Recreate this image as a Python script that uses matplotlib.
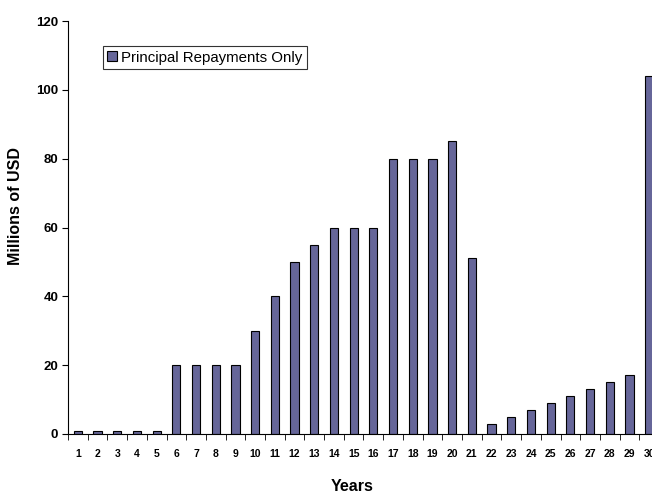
import numpy as np
import matplotlib.pyplot as plt
from matplotlib.ticker import FixedLocator

plt.rcParams['font.family'] = ['Liberation Sans', 'DejaVu Sans']

years = list(range(1, 31))
repayments = [1, 1, 1, 1, 1, 20, 20, 20, 20, 30, 40, 50, 55, 60, 60, 60,
              80, 80, 80, 85, 51, 3, 5, 7, 9, 11, 13, 15, 17, 104]
yticks = [0, 20, 40, 60, 80, 100, 120]

fig = plt.figure(figsize=(6.52, 4.93), dpi=100)
# axes runs a bit past the right edge, like the clipped original
ax = fig.add_axes([68 / 652, 59 / 493, 591 / 652, 413 / 493])

ax.bar(years, repayments, width=0.42, color='#666699', edgecolor='black',
       linewidth=0.8, label='Principal Repayments Only')

ax.set_xlim(0.5, 30.5)
ax.set_ylim(0, 120)
ax.set_yticks(yticks)
ax.set_xticks(years)
ax.xaxis.set_minor_locator(FixedLocator(np.arange(0.5, 31, 1)))
ax.tick_params(axis='x', which='major', length=0, pad=11, labelsize=7.5)
ax.tick_params(axis='x', which='minor', length=4, direction='out')
ax.tick_params(axis='y', length=4, direction='out', labelsize=9.5, pad=3)
for lab in ax.get_xticklabels() + ax.get_yticklabels():
    lab.set_fontweight('bold')

for s in ['top', 'right']:
    ax.spines[s].set_visible(False)

ax.set_xlabel('Years', fontsize=11.5, fontweight='bold')
ax.set_ylabel('Millions of USD', fontsize=11.5, fontweight='bold')
ax.xaxis.set_label_coords(0.48, -0.108)
ax.yaxis.set_label_coords(-0.076, 0.553)

leg = ax.legend(loc='upper left', bbox_to_anchor=(0.059, 0.939), fontsize=10.8,
                frameon=True, fancybox=False, edgecolor='black',
                handlelength=0.65, handleheight=0.65, handletextpad=0.25,
                borderpad=0.3, borderaxespad=0)
leg.get_frame().set_linewidth(0.8)

fig.savefig('out.png', dpi=100)
